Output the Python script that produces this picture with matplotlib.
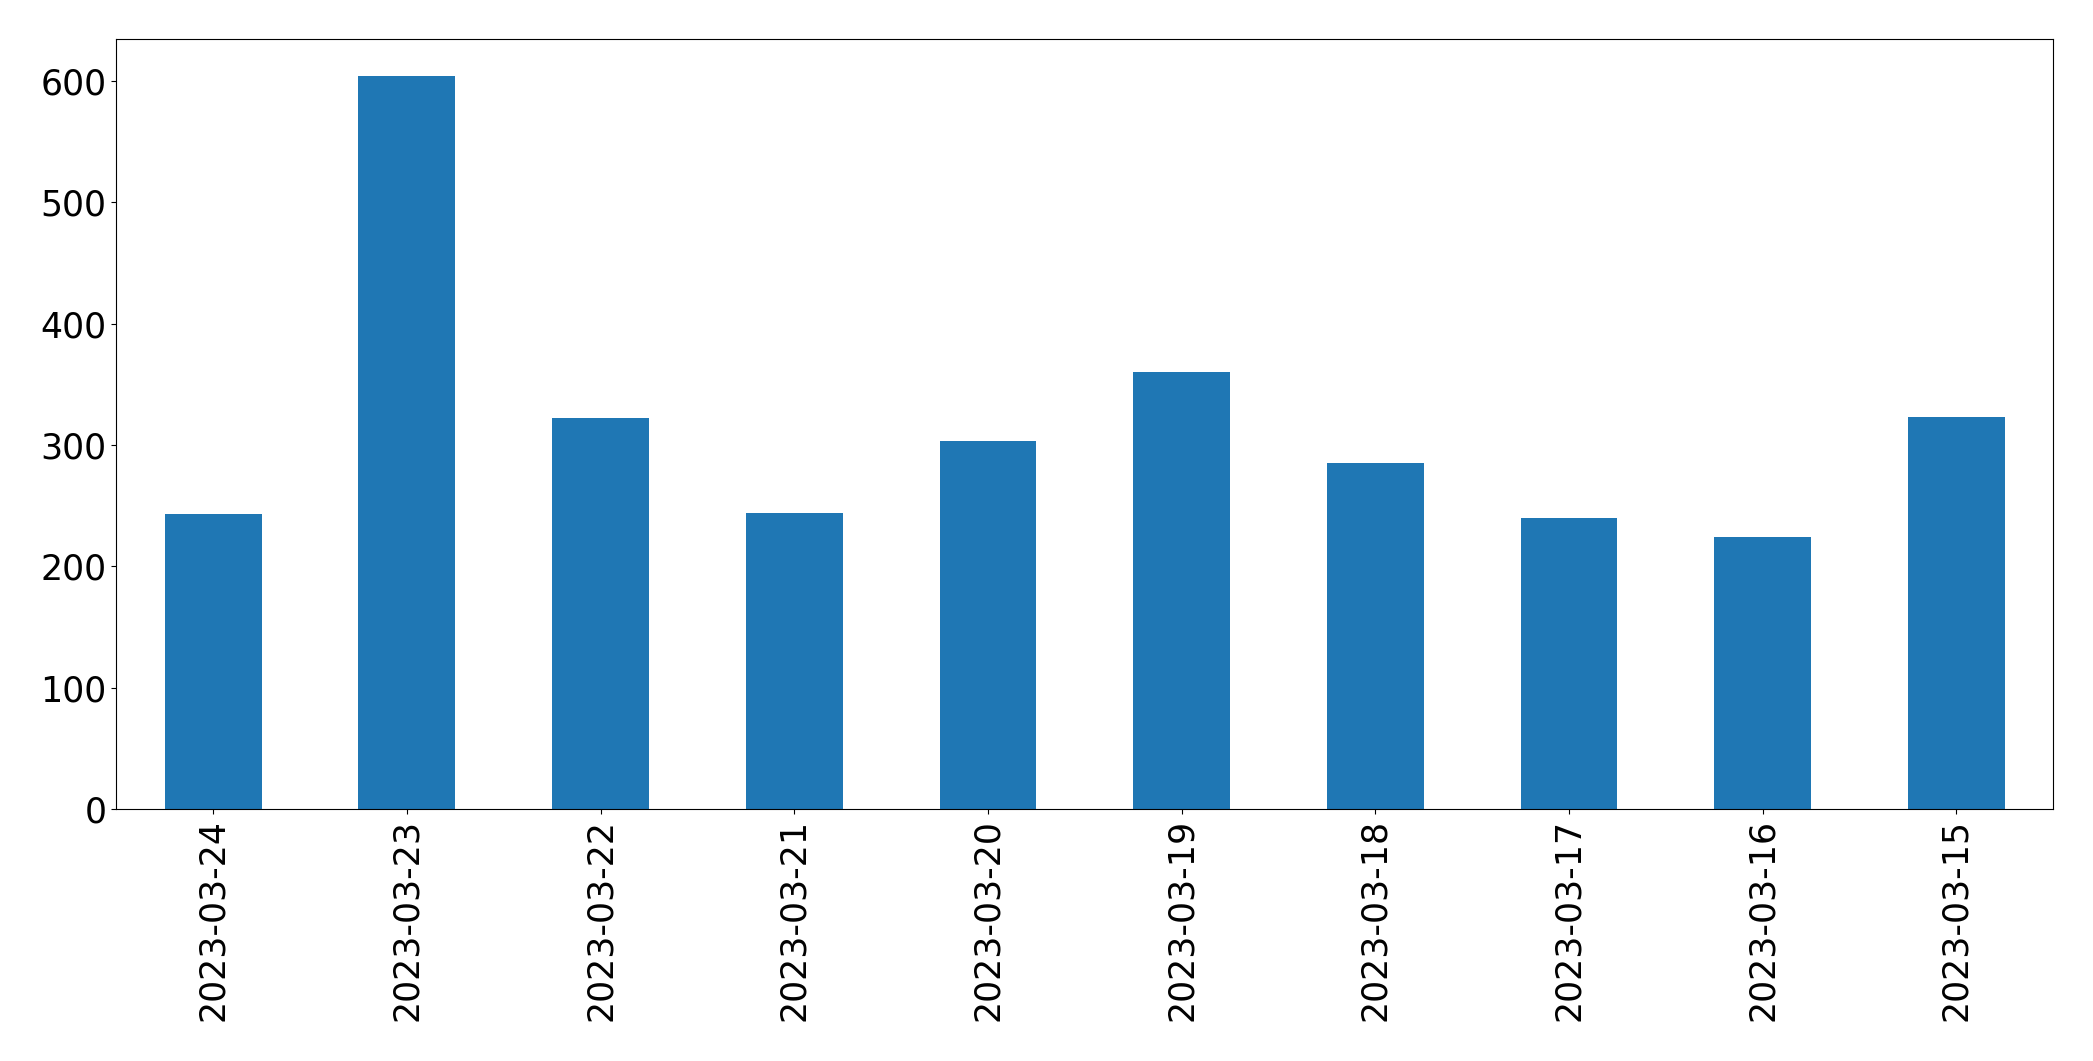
import matplotlib
matplotlib.use('Agg')
import matplotlib.pyplot as plt
import numpy as np

# Daily counts, newest first (as in the original)
dates = ['2023-03-24', '2023-03-23', '2023-03-22', '2023-03-21', '2023-03-20',
         '2023-03-19', '2023-03-18', '2023-03-17', '2023-03-16', '2023-03-15']
counts = [243, 604, 322, 244, 303, 360, 285, 240, 224, 323]

fig = plt.figure(figsize=(20.93, 10.61), dpi=100)
ax = fig.add_axes([0.0556, 0.2372, 0.9254, 0.7258])

x = np.arange(len(dates))
ax.bar(x, counts, width=0.5, color='#1f77b4')
ax.set_xlim(-0.5, len(dates) - 0.5)
ax.set_ylim(0, max(counts) * 1.05)
ax.set_xticks(x)
ax.set_xticklabels(dates, rotation=90)
ax.tick_params(axis='both', labelsize=25)

fig.savefig('out.png', dpi=100)
